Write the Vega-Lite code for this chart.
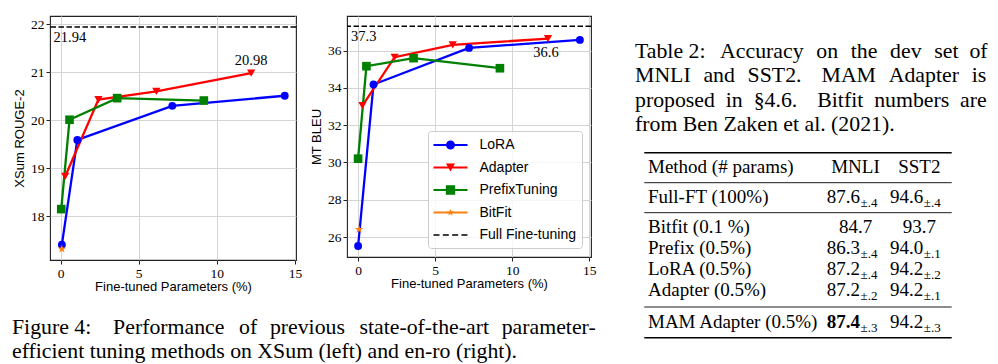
{
  "$schema": "https://vega.github.io/schema/vega-lite/v6.json",
  "background": "white",
  "padding": {"left": 12, "top": 15, "right": 0, "bottom": 4},
  "config": {
    "view": {"stroke": "#222", "strokeWidth": 1.1},
    "axis": {"labelFont": "Liberation Serif", "labelFontSize": 13.5, "labelColor": "#000", "titleFont": "Liberation Sans", "titleFontSize": 13, "titleFontWeight": "normal", "titleColor": "#000", "tickColor": "#222", "tickSize": 4, "tickWidth": 1, "labelPadding": 2, "titlePadding": 4, "domain": false, "grid": true, "gridColor": "#d4d4d4", "gridWidth": 1},
    "text": {"font": "Liberation Serif", "color": "#000"}
  },
  "datasets": {
    "xsum": [
      {"series": "LoRA", "params": 0.08, "score": 17.41},
      {"series": "LoRA", "params": 1.07, "score": 19.59},
      {"series": "LoRA", "params": 7.15, "score": 20.30},
      {"series": "LoRA", "params": 14.35, "score": 20.51},
      {"series": "Adapter", "params": 0.29, "score": 18.83},
      {"series": "Adapter", "params": 2.42, "score": 20.43},
      {"series": "Adapter", "params": 6.13, "score": 20.60},
      {"series": "Adapter", "params": 12.2, "score": 20.98},
      {"series": "PrefixTuning", "params": 0.04, "score": 18.15},
      {"series": "PrefixTuning", "params": 0.57, "score": 20.01},
      {"series": "PrefixTuning", "params": 3.62, "score": 20.46},
      {"series": "PrefixTuning", "params": 9.17, "score": 20.41},
      {"series": "BitFit", "params": 0.08, "score": 17.32}
    ],
    "enro": [
      {"series": "LoRA", "params": 0.0, "score": 25.52},
      {"series": "LoRA", "params": 1.0, "score": 34.18},
      {"series": "LoRA", "params": 7.2, "score": 36.14},
      {"series": "LoRA", "params": 14.39, "score": 36.57},
      {"series": "Adapter", "params": 0.28, "score": 33.05},
      {"series": "Adapter", "params": 2.37, "score": 35.64},
      {"series": "Adapter", "params": 6.14, "score": 36.30},
      {"series": "Adapter", "params": 12.32, "score": 36.64},
      {"series": "PrefixTuning", "params": 0.0, "score": 30.2},
      {"series": "PrefixTuning", "params": 0.54, "score": 35.16},
      {"series": "PrefixTuning", "params": 3.6, "score": 35.59},
      {"series": "PrefixTuning", "params": 9.2, "score": 35.05},
      {"series": "BitFit", "params": 0.06, "score": 26.41}
    ],
    "xsum_full": [{"score": 21.94}],
    "enro_full": [{"score": 37.3}],
    "figcap": [
      {"line": 1, "text": "Figure 4: \u2004\u2004\u200aPerformance \u2004\u200aof \u2004previous \u2004\u200astate-of-the-art \u2004parameter-"},
      {"line": 2, "text": "efficient tuning methods on XSum (left) and en-ro (right)."}
    ],
    "tabcap": [
      {"line": 1, "text": "Table 2: \u2004\u200aAccuracy \u2005\u200aon \u2005\u200athe \u2005\u200adev \u2005\u200aset \u2005of"},
      {"line": 2, "text": "MNLI \u2004and \u2004SST2. \u2004\u2004MAM \u2004Adapter \u2004is"},
      {"line": 3, "text": "proposed \u2005in \u2005§4.6. \u2004\u2004Bitfit \u2005numbers \u2005are"},
      {"line": 4, "text": "from Ben Zaken et al. (2021)."}
    ],
    "table": [
      {"row": 0, "method": "Method (# params)", "mnli": "MNLI", "sst2": "SST2"},
      {"row": 1, "method": "Full-FT (100%)", "mnli": "87.6", "mnli_sd": "±.4", "sst2": "94.6", "sst2_sd": "±.4"},
      {"row": 2, "method": "Bitfit (0.1 %)", "mnli": "84.7", "sst2": "93.7"},
      {"row": 3, "method": "Prefix (0.5%)", "mnli": "86.3", "mnli_sd": "±.4", "sst2": "94.0", "sst2_sd": "±.1"},
      {"row": 4, "method": "LoRA (0.5%)", "mnli": "87.2", "mnli_sd": "±.4", "sst2": "94.2", "sst2_sd": "±.2"},
      {"row": 5, "method": "Adapter (0.5%)", "mnli": "87.2", "mnli_sd": "±.2", "sst2": "94.2", "sst2_sd": "±.1"},
      {"row": 6, "method": "MAM Adapter (0.5%)", "mnli": "87.4", "mnli_sd": "±.3", "sst2": "94.2", "sst2_sd": "±.3", "mnli_best": true}
    ],
    "rules": [
      {"pos": -0.5, "rule": "top"},
      {"pos": 0.5, "rule": "mid"},
      {"pos": 1.5, "rule": "mid"},
      {"pos": 5.5, "rule": "mid"},
      {"pos": 6.5, "rule": "bottom"}
    ]
  },
  "hconcat": [
    {
      "vconcat": [
        {
          "hconcat": [
            {
              "width": 246, "height": 244,
              "data": {"name": "xsum"},
              "layer": [
                {
                  "mark": {"type": "line", "strokeWidth": 2.3},
                  "encoding": {
                    "x": {"field": "params", "type": "quantitative", "title": "Fine-tuned Parameters (%)", "scale": {"domain": [-0.68, 15.07], "nice": false, "zero": false}, "axis": {"values": [0, 5, 10, 15], "titlePadding": 1}},
                    "y": {"field": "score", "type": "quantitative", "title": "XSum ROUGE-2", "scale": {"domain": [17.09, 22.17], "nice": false, "zero": false}, "axis": {"values": [18, 19, 20, 21, 22]}},
                    "color": {"field": "series", "type": "nominal", "scale": {"domain": ["LoRA", "Adapter", "PrefixTuning", "BitFit", "Full Fine-tuning"], "range": ["#0000ff", "#ff0000", "#008000", "#ff7f0e", "#000000"]}, "legend": null}
                  }
                },
                {
                  "mark": {"type": "point", "filled": true, "opacity": 1},
                  "encoding": {
                    "x": {"field": "params", "type": "quantitative", "title": "Fine-tuned Parameters (%)"},
                    "y": {"field": "score", "type": "quantitative", "title": "XSum ROUGE-2"},
                    "color": {"field": "series", "type": "nominal", "legend": null},
                    "shape": {"field": "series", "type": "nominal", "scale": {"domain": ["LoRA", "Adapter", "PrefixTuning", "BitFit"], "range": ["circle", "triangle-down", "square", "M0,-1L0.2245,-0.309L0.951,-0.309L0.363,0.118L0.588,0.809L0,0.382L-0.588,0.809L-0.363,0.118L-0.951,-0.309L-0.2245,-0.309Z"]}, "legend": null},
                    "size": {"field": "series", "type": "nominal", "scale": {"domain": ["LoRA", "Adapter", "PrefixTuning", "BitFit"], "range": [62, 81, 85, 64]}, "legend": null}
                  }
                },
                {
                  "data": {"name": "xsum_full"},
                  "mark": {"type": "rule", "strokeDash": [5.5, 2.5], "strokeWidth": 1.5, "color": "#000"},
                  "encoding": {"y": {"field": "score", "type": "quantitative", "title": "XSum ROUGE-2"}}
                },
                {
                  "data": {"name": "xsum_full"},
                  "mark": {"type": "text", "align": "left", "baseline": "middle", "dx": -7, "dy": 11, "fontSize": 14.5},
                  "encoding": {
                    "x": {"datum": 0, "type": "quantitative"},
                    "y": {"field": "score", "type": "quantitative", "title": "XSum ROUGE-2"},
                    "text": {"field": "score", "type": "quantitative", "format": ".2f"}
                  }
                },
                {
                  "transform": [{"filter": "datum.series === 'Adapter' && datum.params > 12"}],
                  "mark": {"type": "text", "align": "center", "baseline": "middle", "dy": -12, "fontSize": 14.5},
                  "encoding": {
                    "x": {"field": "params", "type": "quantitative", "title": "Fine-tuned Parameters (%)"},
                    "y": {"field": "score", "type": "quantitative", "title": "XSum ROUGE-2"},
                    "text": {"field": "score", "type": "quantitative", "format": ".2f"}
                  }
                }
              ]
            },
            {
              "width": 244, "height": 241,
              "data": {"name": "enro"},
              "layer": [
                {
                  "mark": {"type": "line", "strokeWidth": 2.3},
                  "encoding": {
                    "x": {"field": "params", "type": "quantitative", "title": "Fine-tuned Parameters (%)", "scale": {"domain": [-0.72, 15.11], "nice": false, "zero": false}, "axis": {"values": [0, 5, 10, 15], "titlePadding": 1}},
                    "y": {"field": "score", "type": "quantitative", "title": "MT BLEU", "scale": {"domain": [24.93, 37.85], "nice": false, "zero": false}, "axis": {"values": [26, 28, 30, 32, 34, 36]}},
                    "color": {
                      "field": "series", "type": "nominal",
                      "scale": {"domain": ["LoRA", "Adapter", "PrefixTuning", "BitFit", "Full Fine-tuning"], "range": ["#0000ff", "#ff0000", "#008000", "#ff7f0e", "#000000"]},
                      "legend": {
                        "title": null, "orient": "bottom-right", "offset": 9, "padding": 5.5, "rowPadding": 6.5,
                        "symbolSize": 289, "symbolStrokeWidth": 0, "labelOffset": 29,
                        "labelFont": "Liberation Sans", "labelFontSize": 14, "labelColor": "#000", "labelLimit": 200,
                        "strokeColor": "#cccccc", "fillColor": "rgba(255,255,255,0.8)", "cornerRadius": 3,
                        "encode": {"symbols": {"update": {
                          "shape": {"signal": "datum.value === 'LoRA' ? 'M-1,-0.13H3V0.13H-1ZM1.53,0A0.53,0.53,0,1,1,0.47,0A0.53,0.53,0,1,1,1.53,0Z' : datum.value === 'Adapter' ? 'M-1,-0.13H3V0.13H-1ZM0.47,-0.46H1.53L1,0.46Z' : datum.value === 'PrefixTuning' ? 'M-1,-0.13H3V0.13H-1ZM0.45,-0.55H1.55V0.55H0.45Z' : datum.value === 'BitFit' ? 'M-1,-0.13H3V0.13H-1ZM1,-0.45L1.101,-0.139L1.428,-0.139L1.163,0.053L1.265,0.364L1,0.172L0.735,0.364L0.837,0.053L0.572,-0.139L0.899,-0.139Z' : 'M-1,-0.088H-0.294V0.088H-1ZM0.096,-0.088H0.802V0.088H0.096ZM1.192,-0.088H1.898V0.088H1.192ZM2.288,-0.088H2.994V0.088H2.288Z'"},
                          "fill": {"signal": "datum.value === 'LoRA' ? '#0000ff' : datum.value === 'Adapter' ? '#ff0000' : datum.value === 'PrefixTuning' ? '#008000' : datum.value === 'BitFit' ? '#ff7f0e' : '#000000'"},
                          "stroke": {"value": "transparent"},
                          "strokeWidth": {"value": 0},
                          "opacity": {"value": 1},
                          "fillOpacity": {"value": 1}
                        }}}
                      }
                    }
                  }
                },
                {
                  "mark": {"type": "point", "filled": true, "opacity": 1},
                  "encoding": {
                    "x": {"field": "params", "type": "quantitative", "title": "Fine-tuned Parameters (%)"},
                    "y": {"field": "score", "type": "quantitative", "title": "MT BLEU"},
                    "color": {"field": "series", "type": "nominal"},
                    "shape": {"field": "series", "type": "nominal", "scale": {"domain": ["LoRA", "Adapter", "PrefixTuning", "BitFit"], "range": ["circle", "triangle-down", "square", "M0,-1L0.2245,-0.309L0.951,-0.309L0.363,0.118L0.588,0.809L0,0.382L-0.588,0.809L-0.363,0.118L-0.951,-0.309L-0.2245,-0.309Z"]}, "legend": null},
                    "size": {"field": "series", "type": "nominal", "scale": {"domain": ["LoRA", "Adapter", "PrefixTuning", "BitFit"], "range": [62, 81, 85, 64]}, "legend": null}
                  }
                },
                {
                  "data": {"name": "enro_full"},
                  "mark": {"type": "rule", "strokeDash": [5.5, 2.5], "strokeWidth": 1.5, "color": "#000"},
                  "encoding": {"y": {"field": "score", "type": "quantitative", "title": "MT BLEU"}}
                },
                {
                  "data": {"name": "enro_full"},
                  "mark": {"type": "text", "align": "left", "baseline": "middle", "dx": -7, "dy": 11, "fontSize": 14.5},
                  "encoding": {
                    "x": {"datum": 0, "type": "quantitative"},
                    "y": {"field": "score", "type": "quantitative", "title": "MT BLEU"},
                    "text": {"field": "score", "type": "quantitative", "format": ".1f"}
                  }
                },
                {
                  "transform": [{"filter": "datum.series === 'Adapter' && datum.params > 12"}],
                  "mark": {"type": "text", "align": "center", "baseline": "middle", "dx": -2, "dy": 14, "fontSize": 14.5},
                  "encoding": {
                    "x": {"field": "params", "type": "quantitative", "title": "Fine-tuned Parameters (%)"},
                    "y": {"field": "score", "type": "quantitative", "title": "MT BLEU"},
                    "text": {"field": "score", "type": "quantitative", "format": ".1f"}
                  }
                }
              ]
            }
          ],
          "spacing": 6,
          "resolve": {"scale": {"color": "independent", "shape": "independent", "size": "independent"}, "legend": {"color": "independent", "shape": "independent", "size": "independent"}}
        },
        {
          "width": 552, "height": 48,
          "view": {"stroke": null},
          "data": {"name": "figcap"},
          "mark": {"type": "text", "align": "left", "baseline": "alphabetic", "fontSize": 21.8, "dx": -38},
          "encoding": {
            "x": {"datum": 0, "type": "quantitative", "scale": {"domain": [0, 1]}, "axis": null},
            "y": {"field": "line", "type": "quantitative", "scale": {"domain": [0, 2], "range": [0, 48], "nice": false, "zero": false}, "axis": null},
            "text": {"field": "text"}
          }
        }
      ],
      "spacing": 15,
      "resolve": {"scale": {"color": "independent", "shape": "independent", "size": "independent"}, "legend": {"color": "independent", "shape": "independent", "size": "independent"}}
    },
    {
      "width": 352, "height": 330,
      "view": {"stroke": null},
      "layer": [
        {
          "data": {"name": "tabcap"},
          "mark": {"type": "text", "align": "left", "baseline": "alphabetic", "fontSize": 21.8},
          "encoding": {
            "x": {"datum": 0, "type": "quantitative", "scale": {"domain": [0, 1]}, "axis": null},
            "y": {"field": "line", "type": "quantitative", "scale": {"domain": [1, 4], "range": [42, 115], "nice": false, "zero": false}, "axis": null},
            "text": {"field": "text"}
          }
        },
        {
          "layer": [
            {
              "data": {"name": "rules"},
              "transform": [{"filter": "datum.rule !== 'mid'"}],
              "mark": {"type": "rule", "strokeWidth": 1.6, "color": "#000"},
              "encoding": {
                "x": {"datum": -0.5, "type": "quantitative", "scale": {"domain": [-0.5, 0, 1, 2, 2.5], "range": [9.3, 13, 225, 288.3, 316.7], "nice": false, "zero": false}, "axis": null},
                "x2": {"datum": 2.5},
                "y": {"field": "pos", "type": "quantitative", "scale": {"domain": [-0.5, 0, 0.5, 1, 1.5, 2, 3, 4, 5, 5.5, 6, 6.5], "range": [136.7, 156.7, 166.7, 186.7, 196.7, 217.3, 238.3, 259.3, 280, 291, 311.7, 321.7], "nice": false, "zero": false}, "axis": null}
              }
            },
            {
              "data": {"name": "rules"},
              "transform": [{"filter": "datum.rule === 'mid'"}],
              "mark": {"type": "rule", "strokeWidth": 0.9, "color": "#000"},
              "encoding": {
                "x": {"datum": -0.5, "type": "quantitative", "axis": null},
                "x2": {"datum": 2.5},
                "y": {"field": "pos", "type": "quantitative", "axis": null}
              }
            },
            {
              "data": {"name": "table"},
              "mark": {"type": "text", "align": "left", "baseline": "alphabetic", "fontSize": 19},
              "encoding": {
                "x": {"datum": 0, "type": "quantitative", "axis": null},
                "y": {"field": "row", "type": "quantitative", "axis": null},
                "text": {"field": "method"}
              }
            },
            {
              "data": {"name": "table"},
              "transform": [{"filter": "datum.mnli_sd && !datum.mnli_best"}],
              "mark": {"type": "text", "align": "right", "baseline": "alphabetic", "fontSize": 19},
              "encoding": {
                "x": {"datum": 1, "type": "quantitative", "axis": null},
                "y": {"field": "row", "type": "quantitative", "axis": null},
                "text": {"field": "mnli"}
              }
            },
            {
              "data": {"name": "table"},
              "transform": [{"filter": "datum.mnli_best"}],
              "mark": {"type": "text", "align": "right", "baseline": "alphabetic", "fontSize": 19, "fontWeight": "bold"},
              "encoding": {
                "x": {"datum": 1, "type": "quantitative", "axis": null},
                "y": {"field": "row", "type": "quantitative", "axis": null},
                "text": {"field": "mnli"}
              }
            },
            {
              "data": {"name": "table"},
              "transform": [{"filter": "!datum.mnli_sd"}],
              "mark": {"type": "text", "align": "center", "baseline": "alphabetic", "fontSize": 19, "dx": -4.5},
              "encoding": {
                "x": {"datum": 1, "type": "quantitative", "axis": null},
                "y": {"field": "row", "type": "quantitative", "axis": null},
                "text": {"field": "mnli"}
              }
            },
            {
              "data": {"name": "table"},
              "transform": [{"filter": "datum.mnli_sd"}],
              "mark": {"type": "text", "align": "left", "baseline": "alphabetic", "fontSize": 13, "dy": 4, "dx": 0.5},
              "encoding": {
                "x": {"datum": 1, "type": "quantitative", "axis": null},
                "y": {"field": "row", "type": "quantitative", "axis": null},
                "text": {"field": "mnli_sd"}
              }
            },
            {
              "data": {"name": "table"},
              "transform": [{"filter": "datum.sst2_sd"}],
              "mark": {"type": "text", "align": "right", "baseline": "alphabetic", "fontSize": 19},
              "encoding": {
                "x": {"datum": 2, "type": "quantitative", "axis": null},
                "y": {"field": "row", "type": "quantitative", "axis": null},
                "text": {"field": "sst2"}
              }
            },
            {
              "data": {"name": "table"},
              "transform": [{"filter": "!datum.sst2_sd"}],
              "mark": {"type": "text", "align": "center", "baseline": "alphabetic", "fontSize": 19, "dx": -4},
              "encoding": {
                "x": {"datum": 2, "type": "quantitative", "axis": null},
                "y": {"field": "row", "type": "quantitative", "axis": null},
                "text": {"field": "sst2"}
              }
            },
            {
              "data": {"name": "table"},
              "transform": [{"filter": "datum.sst2_sd"}],
              "mark": {"type": "text", "align": "left", "baseline": "alphabetic", "fontSize": 13, "dy": 4, "dx": 0.5},
              "encoding": {
                "x": {"datum": 2, "type": "quantitative", "axis": null},
                "y": {"field": "row", "type": "quantitative", "axis": null},
                "text": {"field": "sst2_sd"}
              }
            }
          ]
        }
      ],
      "resolve": {"scale": {"x": "independent", "y": "independent"}}
    }
  ],
  "spacing": 33,
  "resolve": {"scale": {"color": "independent", "shape": "independent", "size": "independent"}, "legend": {"color": "independent", "shape": "independent", "size": "independent"}}
}
